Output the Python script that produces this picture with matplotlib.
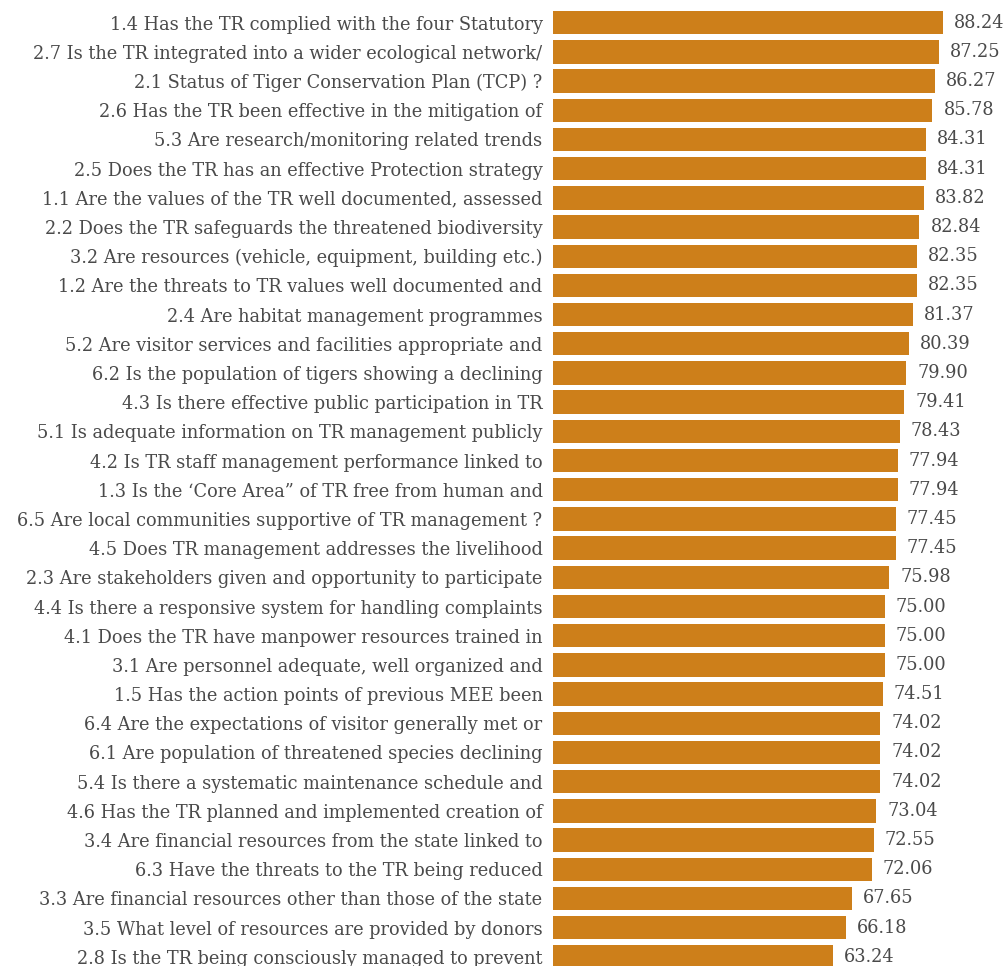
import matplotlib
matplotlib.use("Agg")
import matplotlib.pyplot as plt

questions = [
    "1.4 Has the TR complied with the four Statutory",
    "2.7 Is the TR integrated into a wider ecological network/",
    "2.1 Status of Tiger Conservation Plan (TCP) ?",
    "2.6 Has the TR been effective in the mitigation of",
    "5.3 Are research/monitoring related trends",
    "2.5 Does the TR has an effective Protection strategy",
    "1.1 Are the values of the TR well documented, assessed",
    "2.2 Does the TR safeguards the threatened biodiversity",
    "3.2 Are resources (vehicle, equipment, building etc.)",
    "1.2 Are the threats to TR values well documented and",
    "2.4 Are habitat management programmes",
    "5.2 Are visitor services and facilities appropriate and",
    "6.2 Is the population of tigers showing a declining",
    "4.3 Is there effective public participation in TR",
    "5.1 Is adequate information on TR management publicly",
    "4.2 Is TR staff management performance linked to",
    "1.3 Is the \u2018Core Area\u201d of TR free from human and",
    "6.5 Are local communities supportive of TR management ?",
    "4.5 Does TR management addresses the livelihood",
    "2.3 Are stakeholders given and opportunity to participate",
    "4.4 Is there a responsive system for handling complaints",
    "4.1 Does the TR have manpower resources trained in",
    "3.1 Are personnel adequate, well organized and",
    "1.5 Has the action points of previous MEE been",
    "6.4 Are the expectations of visitor generally met or",
    "6.1 Are population of threatened species declining",
    "5.4 Is there a systematic maintenance schedule and",
    "4.6 Has the TR planned and implemented creation of",
    "3.4 Are financial resources from the state linked to",
    "6.3 Have the threats to the TR being reduced",
    "3.3 Are financial resources other than those of the state",
    "3.5 What level of resources are provided by donors",
    "2.8 Is the TR being consciously managed to prevent",
]

scores = [88.24, 87.25, 86.27, 85.78, 84.31, 84.31, 83.82, 82.84, 82.35, 82.35,
          81.37, 80.39, 79.90, 79.41, 78.43, 77.94, 77.94, 77.45, 77.45, 75.98,
          75.00, 75.00, 75.00, 74.51, 74.02, 74.02, 74.02, 73.04, 72.55, 72.06,
          67.65, 66.18, 63.24]

bar_color = "#CD7F1A"
text_color = "#4a4a4a"
font = "DejaVu Serif"
fsize = 12.8

fig = plt.figure(figsize=(10.05, 9.66), dpi=100)
ax = fig.add_axes([553 / 1005, 0.0, 1 - 553 / 1005, 1.0])

pos = list(range(len(scores)))
ax.barh(pos, scores, height=0.80, color=bar_color)

for y, v in zip(pos, scores):
    ax.text(v + 2.5, y, f"{v:.2f}", va="center", ha="left",
            fontsize=fsize, color=text_color, family=font)

ax.set_xlim(0, 102.2)
ax.set_ylim(32.316, -0.778)
ax.set_yticks(pos)
ax.set_yticklabels(questions, fontsize=fsize, color=text_color, family=font)
ax.tick_params(axis="y", length=0, pad=7.5)
ax.set_xticks([])
for s in ax.spines.values():
    s.set_visible(False)

fig.savefig("out.png", dpi=100)
